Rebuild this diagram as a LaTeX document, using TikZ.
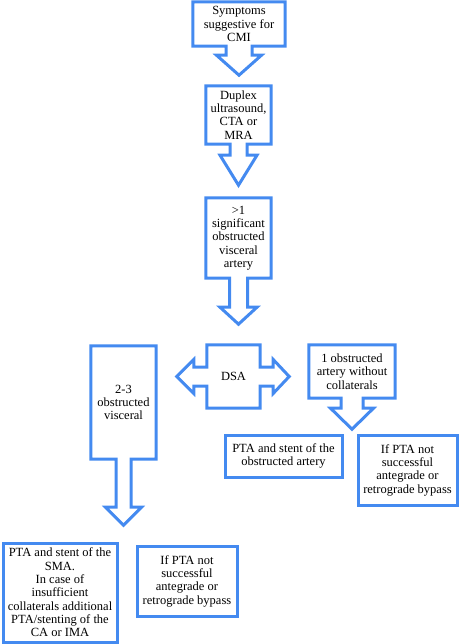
\documentclass[tikz,border=0pt]{standalone}
\usepackage{fontspec}
\setmainfont{Liberation Serif}
\usepackage{xcolor}
\usetikzlibrary{calc}
\definecolor{boxblue}{RGB}{68,138,240}

\begin{document}
\begin{tikzpicture}[
  x=1pt, y=-1pt,
  every node/.style={font=\fontsize{12.5}{13.3}\selectfont, align=center, inner sep=0pt},
  txt/.style={rectangle, minimum width=#1},
  box/.style={rectangle, draw=boxblue, line width=3pt},
  outline/.style={draw=boxblue, line width=3pt, line join=miter}
]
\useasboundingbox (0,0) rectangle (460,644);

% text blocks
\node[txt=92, minimum height=44] (sym) at (239,24) {Symptoms\\suggestive for\\CMI};
\node[txt=65, minimum height=58] (dup) at (238.5,115) {Duplex\\ultrasound,\\CTA or\\MRA};
\node[txt=65, minimum height=80] (sig) at (238.5,238) {>1\\significant\\obstructed\\visceral\\artery};
\node[txt=53, minimum height=63] (dsa) at (233.5,376.5) {DSA};
\node[txt=65, minimum height=113] (vis) at (123.5,402.5) {2-3\\obstructed\\visceral};
\node[txt=86, minimum height=53] (one) at (352,371.5) {1 obstructed\\artery without\\collaterals};
\node[box, minimum width=117, minimum height=42] (pta) at (283.5,456)
  {PTA and stent of the\\obstructed artery};
\node[box, minimum width=99, minimum height=70] (ifr) at (407.5,470)
  {If PTA not\\successful\\antegrade or\\retrograde bypass};
\node[box, minimum width=114, minimum height=99] (sma) at (60,592.5)
  {PTA and stent of the\\SMA.\\In case of\\insufficient\\collaterals additional\\PTA/stenting of the\\CA or IMA};
\node[box, minimum width=100, minimum height=70] (ifl) at (187,581)
  {If PTA not\\successful\\antegrade or\\retrograde bypass};

% callouts with down arrows
\draw[outline] (sym.south west) -- (sym.north west) -- (sym.north east) -- (sym.south east)
  -- ($(sym.south)+(13,0)$) -- ++(0,9) -- ++(9.5,0) -- ($(sym.south)+(0,29)$)
  -- ++(-22.5,-20) -- ++(9.5,0) -- ++(0,-9) -- cycle;
\draw[outline] (dup.south west) -- (dup.north west) -- (dup.north east) -- (dup.south east)
  -- ($(dup.south)+(8.5,0)$) -- ++(0,11) -- ++(10,0) -- ($(dup.south)+(0,41)$)
  -- ++(-18.5,-30) -- ++(10,0) -- ++(0,-11) -- cycle;
\draw[outline] (sig.south west) -- (sig.north west) -- (sig.north east) -- (sig.south east)
  -- ($(sig.south)+(9,0)$) -- ++(0,29) -- ++(9.5,0) -- ($(sig.south)+(0,46)$)
  -- ++(-18.5,-17) -- ++(9.5,0) -- ++(0,-29) -- cycle;
\draw[outline] (vis.south west) -- (vis.north west) -- (vis.north east) -- (vis.south east)
  -- ($(vis.south)+(7.5,0)$) -- ++(0,48) -- ++(10.5,0) -- ($(vis.south)+(0,66)$)
  -- ++(-18,-18) -- ++(10.5,0) -- ++(0,-48) -- cycle;
\draw[outline] (one.south west) -- (one.north west) -- (one.north east) -- (one.south east)
  -- ($(one.south)+(11,0)$) -- ++(0,10) -- ++(10.5,0) -- ($(one.south)+(0,31)$)
  -- ++(-21.5,-21) -- ++(10.5,0) -- ++(0,-10) -- cycle;

% DSA with arrows to both sides
\draw[outline] (dsa.north west) -- (dsa.north east) -- ($(dsa.east)+(0,-9.5)$)
  -- ++(13,0) -- ++(0,-7.5) -- ($(dsa.east)+(29,0)$) -- ++(-16,17) -- ++(0,-7.5)
  -- ($(dsa.east)+(0,9.5)$) -- (dsa.south east) -- (dsa.south west)
  -- ($(dsa.west)+(0,9.5)$) -- ++(-13,0) -- ++(0,7.5) -- ($(dsa.west)+(-30,0)$)
  -- ++(17,-17) -- ++(0,7.5) -- ($(dsa.west)+(0,-9.5)$) -- cycle;
\end{tikzpicture}
\end{document}
